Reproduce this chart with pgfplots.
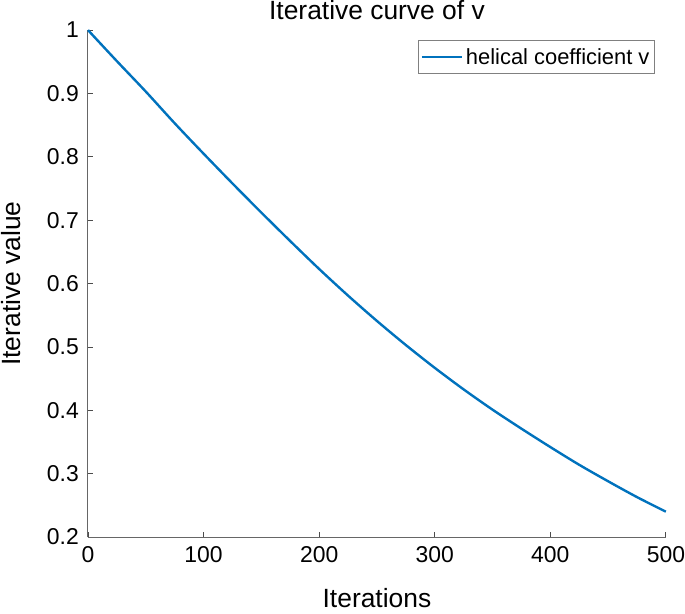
\documentclass[border=0pt]{standalone}
\usepackage{fontspec}
\setmainfont{Liberation Sans}
\usepackage{pgfplots}
\pgfplotsset{compat=1.18}
\definecolor{mblue}{rgb}{0,0.447,0.741}
\begin{document}
\begin{tikzpicture}
\begin{axis}[
  scale only axis, width=578bp, height=507bp,
  xmin=0, xmax=500, ymin=0.2, ymax=1,
  xtick={0,100,200,300,400,500},
  ytick={0.2,0.3,0.4,0.5,0.6,0.7,0.8,0.9,1},
  axis x line*=bottom, axis y line*=left,
  tick align=inside, major tick length=5bp,
  axis line style={black!60, line width=1bp},
  tick style={black!70, line width=0.8bp},
  /pgf/number format/assume math mode=true,
  xticklabel style={font=\fontsize{23}{26}\selectfont, inner sep=0pt, anchor=north, yshift=-9bp},
  yticklabel style={font=\fontsize{23}{26}\selectfont, inner sep=0pt, anchor=east, xshift=-9bp},
  title={Iterative curve of v},
  title style={font=\fontsize{26.5}{30}\selectfont, inner sep=0pt, at={(axis description cs:0.5,1)}, anchor=base, yshift=5bp},
  xlabel={Iterations},
  xlabel style={font=\fontsize{26.5}{30}\selectfont, inner sep=0pt, at={(axis description cs:0.5,-0.140)}, anchor=base},
  ylabel={Iterative value},
  ylabel style={font=\fontsize{26.5}{30}\selectfont, inner sep=0pt, at={(axis description cs:-0.1176,0.5)}, anchor=base},
  legend style={at={(axis description cs:1,1)}, anchor=north east, xshift=-11bp, yshift=-10bp,
    draw=black!50, line width=0.8bp, font=\fontsize{22}{24}\selectfont,
    inner xsep=2bp, inner ysep=5bp, nodes={inner sep=3bp}},
  legend image code/.code={\draw[#1] (0bp,0bp) -- (40bp,0bp);},
  clip=false,
]
\addplot[mblue, line width=2.4bp, smooth] table {
x y
0 1.000
25 0.951
50 0.903
75 0.853
100 0.805
125 0.758
150 0.712
175 0.667
200 0.623
225 0.581
250 0.541
275 0.503
300 0.467
325 0.433
350 0.401
375 0.371
400 0.342
425 0.314
450 0.288
475 0.263
500 0.240
};
\addlegendentry{helical coefficient v}
\path (rel axis cs:-0.15225,-0.1499) rectangle (rel axis cs:1.03287,1.0572);
\end{axis}
\end{tikzpicture}
\end{document}
